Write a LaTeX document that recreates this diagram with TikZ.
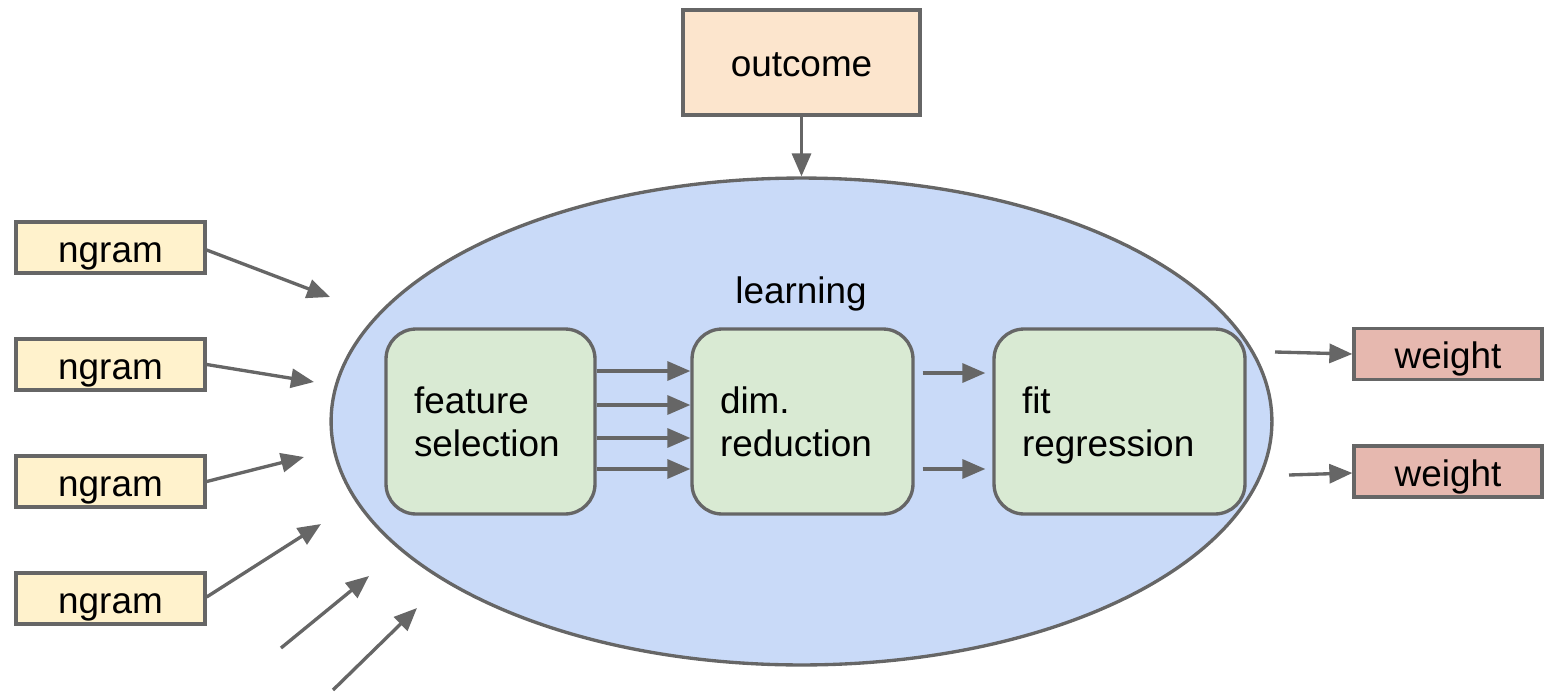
\documentclass[tikz,border=0pt]{standalone}
\usepackage{fontspec}
\setmainfont{Liberation Sans}
\usetikzlibrary{arrows.meta,shapes.geometric}
\definecolor{edge}{HTML}{666666}
\definecolor{ngramfill}{HTML}{FFF2CC}
\definecolor{outfill}{HTML}{FCE5CD}
\definecolor{learnfill}{HTML}{C9DAF8}
\definecolor{stagefill}{HTML}{D9EAD3}
\definecolor{weightfill}{HTML}{E6B8AF}
\begin{document}
\begin{tikzpicture}[x=0.02cm,y=-0.02cm,
  font=\fontsize{21}{24.5}\selectfont,
  box/.style={draw=edge,line width=1.9pt,inner sep=0pt},
  label box/.style={box,text height=0.58cm,text depth=0pt},
  ngrambox/.style={label box,fill=ngramfill,minimum width=3.78cm,minimum height=1.02cm},
  weightbox/.style={label box,fill=weightfill,minimum width=3.76cm,minimum height=1.02cm},
  stagebox/.style={box,fill=stagefill,rounded corners=0.6cm,minimum height=3.70cm,
    align=left,inner xsep=0.56cm},
  arr/.style={draw=edge,line width=1.9pt,-{Triangle[length=0.46cm,width=0.38cm]},fill=edge}]
\useasboundingbox (0,0) rectangle (1544,693);

% central learning ellipse and the outcome feeding it
\node[ellipse,draw=edge,line width=1.9pt,fill=learnfill,inner sep=0pt,
      minimum width=18.82cm,minimum height=9.74cm] (learn) at (801.5,421.5) {};
\node (lbl) at (801,294) {learning};
\node[label box,fill=outfill,minimum width=4.74cm,minimum height=2.10cm] (outcome) at (801.5,62.5) {outcome};
\draw[arr] (outcome.south) -- (learn.north);

% three learning stages (descender of the last line kept out of the centring)
\node[stagebox,text width=3.06cm] (fs) at (490.5,421.5) {feature\\selection};
\node[stagebox,text width=3.30cm] (dr) at (802.5,421.5) {dim.\\reduction};
\node[stagebox,text width=3.90cm] (fr) at (1119.5,421.5) {fit\\\smash{regression}};

\foreach \s in {1.01cm,0.33cm,-0.33cm,-0.95cm}
  \draw[arr] ([yshift=\s]fs.east) -- ([yshift=\s]dr.west);
\foreach \s in {0.97cm,-0.95cm}
  \draw[arr,shorten <=0.16cm,shorten >=0.14cm] ([yshift=\s]dr.east) -- ([yshift=\s]fr.west);

% n-gram inputs
\node[ngrambox] (n1) at (110.5,247.5) {ngram};
\node[ngrambox] (n2) at (110.5,364.5) {ngram};
\node[ngrambox] (n3) at (110.5,481.5) {ngram};
\node[ngrambox] (n4) at (110.5,598.5) {ngram};

\coordinate (t1) at (330,297);
\coordinate (t2) at (314,382);
\coordinate (t3) at (304,457);
\coordinate (t4) at (321,524);
\coordinate (s5) at (281,648);
\coordinate (t5) at (369,576);
\coordinate (s6) at (333,690);
\coordinate (t6) at (417,608);

\draw[arr] ([yshift=-0.05cm]n1.east) -- (t1);
\draw[arr] (n2.east) -- (t2);
\draw[arr] (n3.east) -- (t3);
\draw[arr] ([yshift=0.03cm]n4.east) -- (t4);
\draw[arr] (s5) -- (t5);
\draw[arr] (s6) -- (t6);

% weight outputs
\node[weightbox] (w1) at (1448,354) {weight};
\node[weightbox] (w2) at (1448,471.5) {weight};
\coordinate (o1) at (1275,352);
\coordinate (o2) at (1289,475);
\draw[arr] (o1) -- (w1.west);
\draw[arr] (o2) -- ([yshift=-0.03cm]w2.west);
\end{tikzpicture}
\end{document}
